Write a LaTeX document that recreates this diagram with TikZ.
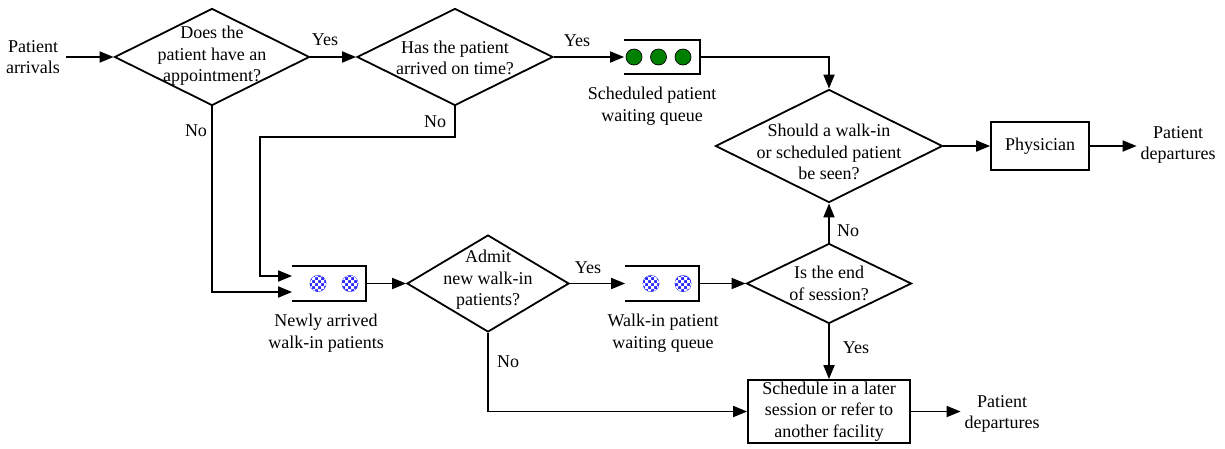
\documentclass[tikz,border=0pt]{standalone}
\usepackage{fontspec}
\setmainfont{Liberation Serif}
\usetikzlibrary{shapes.geometric,arrows.meta,patterns}
\definecolor{qgreen}{RGB}{0,128,0}
\definecolor{qblue}{RGB}{40,40,255}
\pgfdeclarepatternformonly{finecheck}{\pgfqpoint{-1pt}{-1pt}}{\pgfqpoint{7pt}{7pt}}{\pgfqpoint{6pt}{6pt}}{%
  \pgfpathrectangle{\pgfpointorigin}{\pgfqpoint{3pt}{3pt}}%
  \pgfpathrectangle{\pgfqpoint{3pt}{3pt}}{\pgfqpoint{3pt}{3pt}}%
  \pgfusepath{fill}}
\begin{document}
\begin{tikzpicture}[x=1pt,y=-1pt,
  font=\fontsize{18}{21.5}\selectfont,
  line width=1.8pt,
  dia/.style={draw,diamond,inner sep=0pt,line width=1.8pt},
  boxnode/.style={draw,rectangle,inner sep=0pt,line width=1.8pt,align=center},
  txt/.style={align=center,inner sep=0pt},
  qnode/.style={rectangle,inner sep=0pt,minimum width=72pt,minimum height=33pt},
  arr/.style={-{Triangle[length=14pt,width=11pt]}},
  gdot/.style={circle,draw=black,fill=qgreen,minimum size=16pt,inner sep=0pt,line width=0.7pt},
  bdot/.style={circle,draw=qblue,fill=qblue,minimum size=16pt,inner sep=0pt,line width=0.7pt,
    postaction={pattern=finecheck,pattern color=white}}
]
\useasboundingbox (0,0) rectangle (1225,448);

% text / decision nodes
\node[txt] (arrivals) at (33,57) {Patient\\arrivals};
\node[dia,minimum width=195pt,minimum height=97pt] (d1) at (212,57) {};
\node[txt] (d1t) at (212,56) {Does the\\patient have an\\appointment?};
\node[dia,minimum width=196pt,minimum height=97pt] (d2) at (455,57) {};
\node[txt] (d2t) at (455,58) {Has the patient\\arrived on time?};

% scheduled queue
\node[qnode,minimum width=74pt,minimum height=32pt] (q1) at (662,57) {};
\draw (q1.north west) -- (q1.north east) -- (q1.south east) -- (q1.south west);
\node[gdot] (g1) at (634,57) {};
\node[gdot] (g2) at (658.5,57) {};
\node[gdot] (g3) at (683,57) {};
\node[txt] (q1t) at (652,106) {Scheduled patient\\waiting queue};

\node[dia,minimum width=227pt,minimum height=113pt] (d3) at (829,146) {};
\node[txt] (d3t) at (829,152) {Should a walk-in\\or scheduled patient\\be seen?};
\node[boxnode,minimum width=98pt,minimum height=48pt] (phys) at (1040,146) {Physician};
\node[txt] (dep1) at (1178,145) {Patient\\departures};

% newly arrived queue
\node[qnode] (q2) at (329,283.5) {};
\draw (q2.north west) -- (q2.north east) -- (q2.south east) -- (q2.south west);
\node[bdot] (b1) at (318,283.5) {};
\node[bdot] (b2) at (350,283.5) {};
\node[txt] (q2t) at (326,333) {Newly arrived\\walk-in patients};

\node[dia,minimum width=162pt,minimum height=97pt] (d4) at (488,283.5) {};
\node[txt] (d4t) at (488,280) {Admit\\new walk-in\\patients?};

% walk-in queue
\node[qnode] (q3) at (662,283.5) {};
\draw (q3.north west) -- (q3.north east) -- (q3.south east) -- (q3.south west);
\node[bdot] (b3) at (651,283.5) {};
\node[bdot] (b4) at (683,283.5) {};
\node[txt] (q3t) at (663,333) {Walk-in patient\\waiting queue};

\node[dia,minimum width=165pt,minimum height=80pt] (d5) at (829,283.5) {};
\node[txt] (d5t) at (829,283.5) {Is the end\\of session?};

\node[boxnode,minimum width=162pt,minimum height=63pt] (sched) at (829,411.5) {Schedule in a later\\session or refer to\\another facility};
\node[txt] (dep2) at (1002,414) {Patient\\departures};

% labels
\node[txt] (yes1) at (325,40) {Yes};
\node[txt] (yes2) at (577,41) {Yes};
\node[txt] (no1) at (196,131) {No};
\node[txt] (no2) at (435,122) {No};
\node[txt] (yes3) at (588,268) {Yes};
\node[txt] (no3) at (848,231) {No};
\node[txt] (yes4) at (856,348) {Yes};
\node[txt] (no4) at (508,362) {No};

% helper coordinates
\coordinate (q2lo) at ([yshift=-8.5pt]q2.west);
\coordinate (q2hi) at ([yshift=7.5pt]q2.west);
\coordinate (c2) at (260,137);
\coordinate (e1) at ([xshift=-3pt]dep1.west |- phys.east);
\coordinate (e2) at ([xshift=-3pt]dep2.west |- sched.east);

% connectors
\draw[arr] ([xshift=5pt]arrivals.east) -- (d1.west);
\draw[arr] (d1.east) -- (d2.west);
\draw[arr] (d2.east) -- (q1.west);
\draw[arr] (q1.east) -| (d3.north);
\draw[arr] (d3.east) -- (phys.west);
\draw[arr] (phys.east) -- (e1);
\draw[arr] (d1.south) |- (q2lo);
\draw[arr] (d2.south) |- (c2) |- (q2hi);
\draw[arr] (q2.east) -- (d4.west);
\draw[arr] (d4.east) -- (q3.west);
\draw[arr] (q3.east) -- (d5.west);
\draw[arr] (d5.north) -- (d3.south);
\draw[arr] (d5.south) -- (sched.north);
\draw[arr] (d4.south) |- (sched.west);
\draw[arr] (sched.east) -- (e2);
\end{tikzpicture}
\end{document}
